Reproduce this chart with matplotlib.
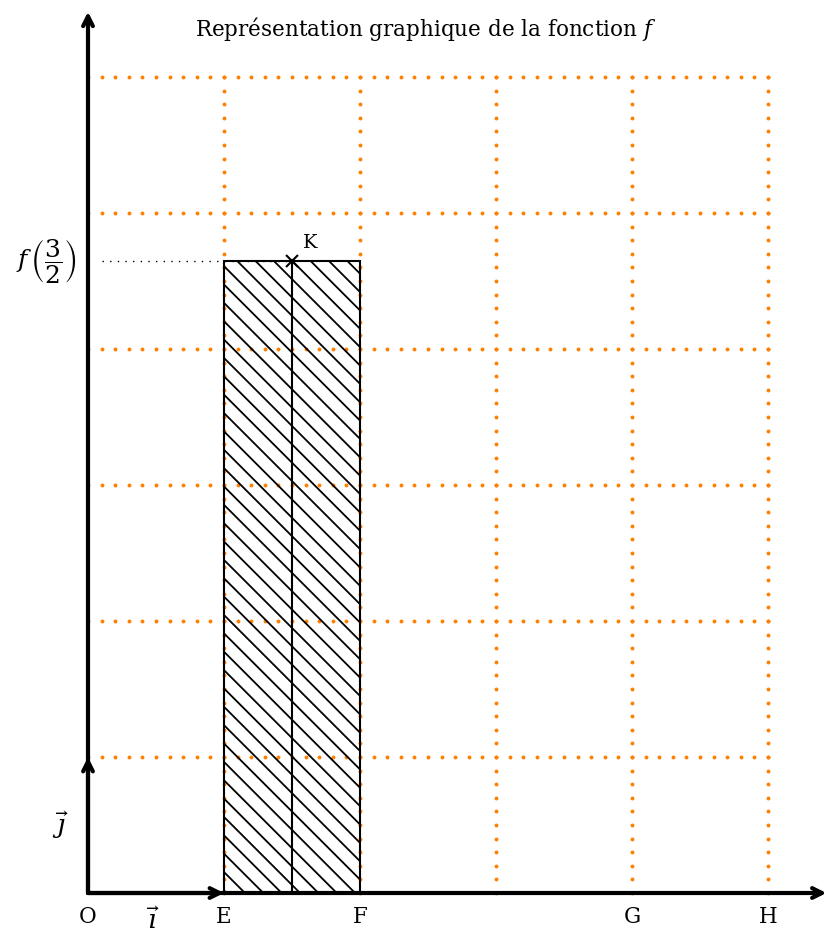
import numpy as np
import matplotlib.pyplot as plt
from matplotlib.patches import Rectangle

plt.rcParams['font.family'] = 'DejaVu Serif'
plt.rcParams['mathtext.fontset'] = 'dejavuserif'

# data
grid_x = [1, 2, 3, 4, 5]
grid_y = [1, 2, 3, 4, 5, 6]
pt_names = ['O', 'E', 'F', 'G', 'H']
pt_x = [0, 1, 2, 4, 5]
rect_left, rect_right = 1.0, 2.0
k_x, k_y = 1.5, 4.65
x_end, y_end = 5.43, 6.48

orange = '#ff8000'

fig = plt.figure(figsize=(8.27, 9.36), dpi=100)
ax = fig.add_axes([0, 0, 1, 1])
ax.set_xlim(-88 / 136, 739 / 136)
ax.set_ylim(-43 / 136, 893 / 136)
ax.set_aspect('equal')
ax.axis('off')

# dotted orange grid (one dot every tenth of a unit)
along_x = np.linspace(0, max(grid_x), 10 * max(grid_x) + 1)
along_y = np.linspace(0, max(grid_y), 10 * max(grid_y) + 1)
for gy in grid_y:
    ax.plot(along_x, np.full_like(along_x, gy), ls='none', marker='o',
            ms=2.8, mew=0, color=orange, zorder=1)
for gx in grid_x:
    ax.plot(np.full_like(along_y, gx), along_y, ls='none', marker='o',
            ms=2.8, mew=0, color=orange, zorder=1)

# hatched rectangle
h = k_y
rect = Rectangle((rect_left, 0), rect_right - rect_left, h, fill=False,
                 edgecolor='black', lw=1.5, zorder=3)
ax.add_patch(rect)
clip = Rectangle((rect_left, 0), rect_right - rect_left, h, fill=False,
                 lw=0, transform=ax.transData)
ax.add_patch(clip)
step = 0.135
c0 = 2.909
cs = np.arange(c0 - step * 60, c0 + step * 60, step)
for c in cs:
    xs = np.array([rect_left - 1, rect_right + 1])
    ln, = ax.plot(xs, c - xs, color='black', lw=1.3, zorder=2)
    ln.set_clip_path(clip)
ax.plot([k_x, k_x], [0, k_y], color='black', lw=1.5, zorder=3)

# point K and dotted guide
ax.plot([0.1, k_x], [k_y, k_y], color='black', lw=1,
        linestyle=(0, (1, 4.5)), zorder=3)
ax.plot(k_x, k_y, marker='x', color='black', ms=9, mew=1.5, zorder=4)
ax.text(k_x + 0.08, k_y + 0.06, 'K', fontsize=14, ha='left', va='bottom')
ax.text(-0.31, k_y, r'$f\,\left(\dfrac{3}{2}\right)$', fontsize=18,
        ha='center', va='center')

# axes with arrows
aprops = dict(arrowstyle='->,head_length=0.7,head_width=0.35', lw=3,
              color='black', shrinkA=0, shrinkB=0)
ax.annotate('', xy=(x_end, 0), xytext=(0, 0), arrowprops=aprops, zorder=5)
ax.annotate('', xy=(0, y_end), xytext=(0, 0), arrowprops=aprops, zorder=5)
ax.annotate('', xy=(1, 0), xytext=(0, 0), arrowprops=aprops, zorder=6)
ax.annotate('', xy=(0, 1), xytext=(0, 0), arrowprops=aprops, zorder=6)

for name, px in zip(pt_names, pt_x):
    ax.text(px, -0.175, name, fontsize=15.5, ha='center', va='center')
ax.text(0.48, -0.2, r'$\vec{\imath}$', fontsize=19, ha='center', va='center')
ax.text(-0.2, 0.5, r'$\vec{\jmath}$', fontsize=19, ha='center', va='center')

ax.text(2.48, 6.35, r'Représentation graphique de la fonction $f$',
        fontsize=15.5, ha='center', va='center')

fig.savefig('out.png', dpi=100)
